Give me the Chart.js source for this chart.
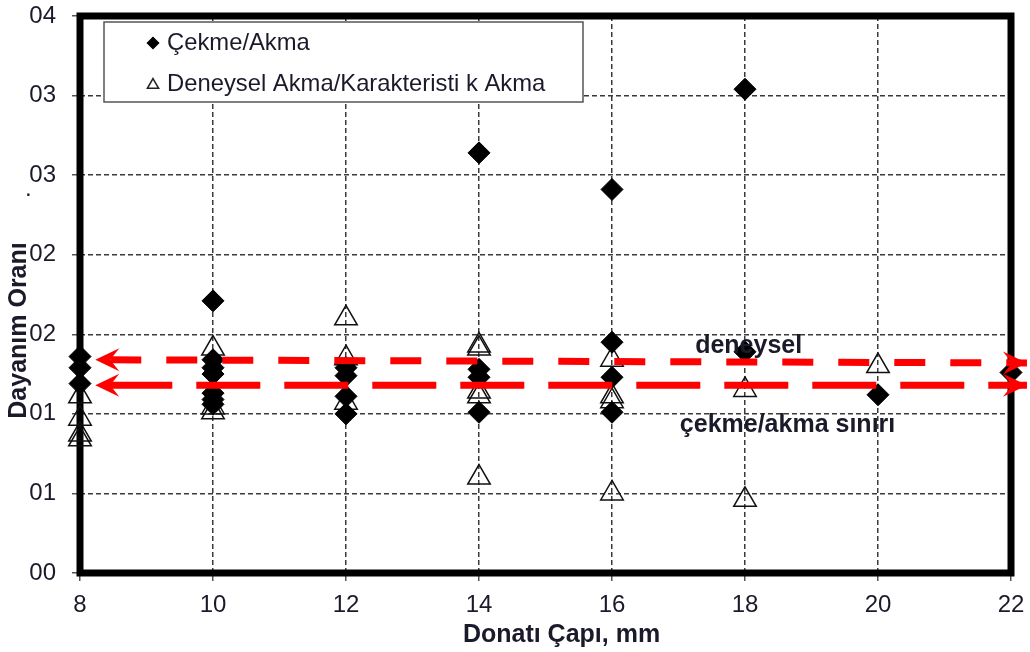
<!DOCTYPE html>
<html>
<head>
<meta charset="utf-8">
<script src="https://cdn.jsdelivr.net/npm/chart.js@4.4.1/dist/chart.umd.min.js"></script>
<style>
  html, body { margin: 0; padding: 0; background: #fff; }
  canvas { display: block; }
</style>
</head>
<body>
<canvas id="c" width="1030" height="652"></canvas>
<script>
// Axis tick labels
const xTickLabels = ['8', '10', '12', '14', '16', '18', '20', '22'];
const yTickLabels = ['00', '01', '01', '02', '02', '03', '03', '04'];

// Series names
const seriesNames = ['Çekme/Akma', 'Deneysel Akma/Karakteristi k Akma'];

// Çekme/Akma ratios per bar diameter (mm)
const cekmeX = [8, 8, 8, 10, 10, 10, 10, 10, 10, 10, 12, 12, 12, 12, 14, 14, 14, 14, 16, 16, 16, 16, 18, 18, 20, 22];
const cekmeY = [1.0136, 1.0129, 1.0119, 1.0171, 1.0134, 1.0129, 1.0125, 1.0113, 1.0109, 1.0106,
                1.0129, 1.0124, 1.0111, 1.0100, 1.0264, 1.0128, 1.0123, 1.0101,
                1.0241, 1.0145, 1.0123, 1.0101, 1.0304, 1.0139, 1.0112, 1.0126];

// Deneysel akma / karakteristik akma ratios per bar diameter (mm)
const deneyX = [8, 8, 8, 8, 10, 10, 10, 12, 12, 12, 14, 14, 14, 14, 14, 16, 16, 16, 16, 18, 18, 20];
const deneyY = [1.0111, 1.0097, 1.0087, 1.0084, 1.0141, 1.0104, 1.0101, 1.0160, 1.0135, 1.0107,
                1.0143, 1.0141, 1.0114, 1.0111, 1.0060, 1.0134, 1.0111, 1.0108, 1.0050,
                1.0115, 1.0046, 1.0130];

// Limit lines (drawn with arrowheads at both ends)
const limitNames = ['deneysel', 'çekme/akma sınırı'];
const limitX = [8.23, 22.24];
const deneyselLimitY = [1.0134, 1.0132];
const cekmeLimitY = [1.0118, 1.0118];

const FONT = '"Liberation Sans", Arial, sans-serif';
const TEXT = '#1a1a2a';
Chart.defaults.font.family = FONT;
Chart.defaults.color = TEXT;

const pairs = (xs, ys) => xs.map((x, i) => ({ x: x, y: ys[i] }));

function arrowHead(ctx, x, y, dir) {
  const L = 24, W = 11.5;
  ctx.beginPath();
  ctx.moveTo(x, y);
  ctx.lineTo(x - dir * L, y - W);
  ctx.lineTo(x - dir * L * 0.62, y);
  ctx.lineTo(x - dir * L, y + W);
  ctx.closePath();
  ctx.fill();
}

const decor = {
  id: 'decor',
  beforeDatasetsDraw(chart) {
    const { ctx, chartArea: a } = chart;
    ctx.save();
    ctx.strokeStyle = '#000';
    ctx.lineWidth = 7;
    ctx.strokeRect(a.left, a.top, a.right - a.left, a.bottom - a.top);
    ctx.restore();
  },
  afterDatasetsDraw(chart) {
    const { ctx, chartArea: a, scales } = chart;
    const xs = scales.x, ys = scales.y;
    ctx.save();

    // arrowheads on the limit lines
    ctx.fillStyle = '#ff0000';
    [0, 1].forEach(i => {
      const pts = chart.getDatasetMeta(i).data;
      arrowHead(ctx, pts[0].x, pts[0].y, -1);
      arrowHead(ctx, pts[pts.length - 1].x, pts[pts.length - 1].y, 1);
    });

    // limit line labels
    ctx.fillStyle = TEXT;
    ctx.font = 'bold 25px ' + FONT;
    ctx.textAlign = 'left';
    ctx.textBaseline = 'alphabetic';
    const upY = chart.getDatasetMeta(0).data[0].y;
    const lowY = chart.getDatasetMeta(1).data[0].y;
    ctx.fillText(limitNames[0], xs.getPixelForValue(17.25), upY - 7);
    ctx.fillText(limitNames[1], xs.getPixelForValue(17.02), lowY + 47);

    // legend box
    const lx = a.left + 24, ly = a.top + 6, lw = 479, lh = 80;
    ctx.fillStyle = '#fff';
    ctx.fillRect(lx, ly, lw, lh);
    ctx.strokeStyle = '#555';
    ctx.lineWidth = 1.5;
    ctx.strokeRect(lx, ly, lw, lh);

    ctx.fillStyle = '#000';
    ctx.strokeStyle = '#000';
    Chart.helpers.drawPoint(ctx, { pointStyle: 'rectRot', radius: 5.5, borderWidth: 1 }, lx + 49, ly + 21);
    ctx.fillStyle = 'rgba(0,0,0,0)';
    ctx.strokeStyle = '#222';
    Chart.helpers.drawPoint(ctx, { pointStyle: 'triangle', radius: 6.5, borderWidth: 1.3 }, lx + 49, ly + 63);

    ctx.fillStyle = TEXT;
    ctx.font = '23.8px ' + FONT;
    ctx.textBaseline = 'middle';
    ctx.fillText(seriesNames[0], lx + 63, ly + 21);
    ctx.fillText(seriesNames[1], lx + 63, ly + 62);

    // axis titles
    ctx.font = 'bold 25px ' + FONT;
    ctx.textAlign = 'center';
    ctx.textBaseline = 'alphabetic';
    ctx.fillText('Donatı Çapı, mm', (a.left + a.right) / 2 + 16, a.bottom + 69);

    ctx.save();
    ctx.translate(19, (a.top + a.bottom) / 2 + 36);
    ctx.rotate(-Math.PI / 2);
    ctx.textBaseline = 'middle';
    ctx.fillText('Dayanım Oranı', 0, 0);
    ctx.restore();

    // stray point beside the 1.025 tick
    ctx.font = '24px ' + FONT;
    ctx.textAlign = 'left';
    ctx.fillText('.', 25, ys.getPixelForValue(1.025) + 21);

    ctx.restore();
  }
};

new Chart(document.getElementById('c').getContext('2d'), {
  type: 'scatter',
  data: {
    datasets: [
      {
        label: limitNames[0],
        data: pairs(limitX, deneyselLimitY),
        showLine: true,
        borderColor: '#ff0000',
        borderWidth: 7,
        borderDash: [31, 25],
        borderDashOffset: 41,
        borderCapStyle: 'butt',
        pointRadius: 0,
        clip: false
      },
      {
        label: limitNames[1],
        data: pairs(limitX, cekmeLimitY),
        showLine: true,
        borderColor: '#ff0000',
        borderWidth: 7,
        borderDash: [64, 24],
        borderDashOffset: 75,
        borderCapStyle: 'butt',
        pointRadius: 0,
        clip: false
      },
      {
        label: seriesNames[0],
        data: pairs(cekmeX, cekmeY),
        pointStyle: 'rectRot',
        pointRadius: 11,
        backgroundColor: '#000',
        borderColor: '#000',
        borderWidth: 1,
        clip: false
      },
      {
        label: seriesNames[1],
        data: pairs(deneyX, deneyY),
        pointStyle: 'triangle',
        pointRadius: 13,
        backgroundColor: 'rgba(0,0,0,0)',
        borderColor: '#111',
        borderWidth: 1.5,
        clip: false
      }
    ]
  },
  options: {
    responsive: false,
    animation: false,
    events: [],
    layout: { padding: { top: 16, right: 19, left: 0, bottom: 0 } },
    plugins: { legend: { display: false }, tooltip: { enabled: false } },
    scales: {
      x: {
        type: 'linear',
        min: 8,
        max: 22,
        ticks: {
          stepSize: 2,
          autoSkip: false,
          maxRotation: 0,
          padding: 10,
          font: { size: 24 },
          color: TEXT,
          callback: (v, i) => xTickLabels[i]
        },
        grid: { color: '#3a3a3a', lineWidth: 1.5, tickLength: 8, tickColor: '#555', tickWidth: 1.5 },
        border: { display: false, dash: [5, 3] },
        afterFit: s => { s.height = 79; s.paddingLeft = 0; s.paddingRight = 0; }
      },
      y: {
        type: 'linear',
        min: 1.0,
        max: 1.035,
        ticks: {
          stepSize: 0.005,
          autoSkip: false,
          padding: 16,
          font: { size: 24 },
          color: TEXT,
          callback: (v, i) => yTickLabels[i]
        },
        grid: { color: '#3a3a3a', lineWidth: 1.5, tickLength: 8, tickColor: '#555', tickWidth: 1.5 },
        border: { display: false, dash: [5, 3] },
        afterFit: s => { s.width = 80; s.paddingTop = 0; s.paddingBottom = 0; }
      }
    }
  },
  plugins: [decor]
});
</script>
</body>
</html>
